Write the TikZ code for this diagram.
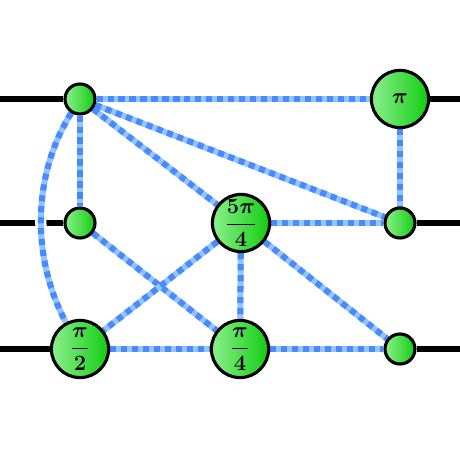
\documentclass[tikz,border=0pt]{standalone}
\usepackage{amsmath,amssymb}
\usepackage{graphicx}
\usepackage{xcolor}
\usepackage{tikz}
\usetikzlibrary{positioning,backgrounds}

\definecolor{zlight}{RGB}{140,240,140}
\definecolor{zdark}{RGB}{18,204,18}
\definecolor{hlight}{RGB}{150,196,255}
\definecolor{hdark}{RGB}{72,138,255}
\newcommand{\phase}[1]{\scalebox{0.9}{$#1$}}

\begin{document}
\begin{tikzpicture}[
  x=0.025cm, y=0.025cm,
  spider/.style={circle, draw, line width=2.2pt, left color=zlight, right color=zdark,
                 inner sep=-3pt, font=\LARGE\boldmath},
  small/.style={spider, minimum size=0.75cm},
  big/.style={spider, minimum size=1.43cm},
  wire/.style={line width=4.2pt, black},
  hedge/.style={line width=4.3pt, draw=hlight,
                postaction={draw=hdark, line width=4.3pt, dash pattern=on 4.4pt off 3.4pt}}
]
\useasboundingbox (0,0) rectangle (460,460);
% spiders
\node[small] (a1) at (80,361) {};
\node[big]   (c1) at (400,361) {\phase{\pi}};
\node[small] (a2) at (80,237) {};
\node[big]   (b2) at (241,237) {\phase{\dfrac{5\pi}{4}}};
\node[small] (c2) at (400,237) {};
\node[big]   (a3) at (80,111) {\phase{\dfrac{\pi}{2}}};
\node[big]   (b3) at (240,111) {\phase{\dfrac{\pi}{4}}};
\node[small] (c3) at (400,111) {};
% wire ends
\coordinate (in1) at (0,361);
\coordinate (in2) at (0,237);
\coordinate (in3) at (0,111);
\coordinate (out1) at (460,361);
\coordinate (out2) at (460,237);
\coordinate (out3) at (460,111);
\begin{scope}[on background layer]
\draw[wire] (in1) -- (a1);
\draw[wire] (in2) -- (a2);
\draw[wire] (in3) -- (a3);
\draw[wire] (c1) -- (out1);
\draw[wire] (c2) -- (out2);
\draw[wire] (c3) -- (out3);
\draw[hedge] (a1) -- (c1);
\draw[hedge] (a1) -- (a2);
\draw[hedge] (a1) -- (b2);
\draw[hedge] (a1) -- (c2);
\draw[hedge] (c1) -- (c2);
\draw[hedge] (a2) -- (b3);
\draw[hedge] (b2) -- (c2);
\draw[hedge] (b2) -- (a3);
\draw[hedge] (b2) -- (b3);
\draw[hedge] (b2) -- (c3);
\draw[hedge] (a3) -- (b3);
\draw[hedge] (b3) -- (c3);
\draw[hedge, preaction={draw=white, line width=8pt}]
  (a1) to[out=238, in=118, looseness=0.9] (a3);
\end{scope}
\end{tikzpicture}
\end{document}
